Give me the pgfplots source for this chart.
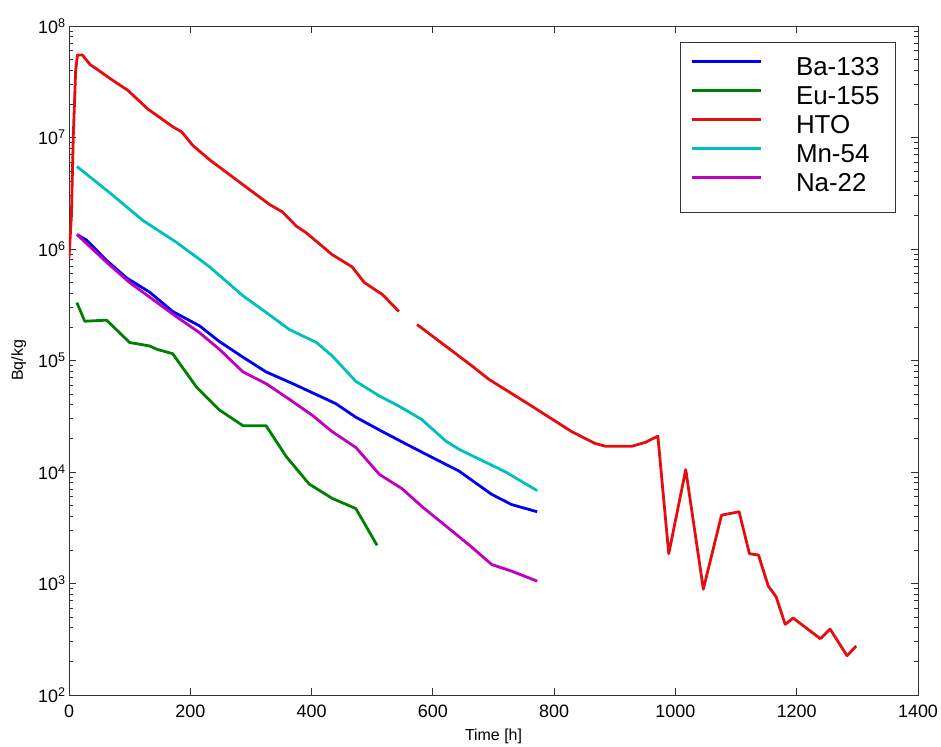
\documentclass[border=0pt]{standalone}
\usepackage{pgfplots}
\pgfplotsset{compat=1.18}
\usepackage{fontspec}
\setmainfont{Liberation Sans}
\definecolor{mb}{rgb}{0,0,0.95}
\definecolor{mg}{rgb}{0,0.5,0}
\definecolor{mr}{rgb}{0.9,0.05,0.05}
\definecolor{mc}{rgb}{0,0.75,0.75}
\definecolor{mm}{rgb}{0.75,0,0.75}
\begin{document}
\begin{tikzpicture}
\begin{axis}[
  scale only axis, width=849bp, height=669bp,
  xmin=0, xmax=1400, ymin=1e2, ymax=1e8, ymode=log,
  xtick={0,200,...,1400},
  ytick={1e2,1e3,1e4,1e5,1e6,1e7,1e8},
  yticklabels={10\textsuperscript{2},10\textsuperscript{3},10\textsuperscript{4},10\textsuperscript{5},10\textsuperscript{6},10\textsuperscript{7},10\textsuperscript{8}},
  /pgf/number format/assume math mode=true,
  /pgf/number format/set thousands separator={},
  tick label style={font=\fontsize{18}{21}\selectfont},
  xticklabel style={yshift=-6bp},
  tick align=inside, major tick length=7bp, minor tick length=4bp,
  axis line style={line width=0.8bp, black!80},
  every tick/.style={black!80, line width=0.8bp},
  xlabel={Time [h]}, xlabel style={font=\fontsize{16}{19}\selectfont, yshift=-5bp},
  ylabel={Bq/kg}, ylabel style={font=\fontsize{16}{19}\selectfont, yshift=5bp},
  unbounded coords=jump,
  every axis plot/.append style={line width=2.8bp, line join=round},
  legend style={at={(rel axis cs:0.974,0.976)}, anchor=north east,
    font=\fontsize{26}{29}\selectfont, draw=black!80, line width=0.8bp,
    inner xsep=10bp, inner ysep=12.5bp, row sep=0bp, column sep=28bp,
    nodes={inner xsep=6bp, inner ysep=3bp, text height=18bp, text depth=5bp}},
  legend cell align=left,
  legend image code/.code={\draw[#1] (0bp,8bp) -- (69bp,8bp);},
]
\addplot[mb] coordinates {(13,1.35e6)(29,1.2e6)(62,7.9e5)(95,5.5e5)(133,4.1e5)(171,2.75e5)(215,2.05e5)(248,1.48e5)(287,1.07e5)(325,7.9e4)(369,6.2e4)(413,4.8e4)(440,4.1e4)(473,3.1e4)(517,2.3e4)(556,1.78e4)(599,1.35e4)(643,1.02e4)(697,6.3e3)(730,5.1e3)(772,4.4e3)};
\addlegendentry{Ba-133}
\addplot[mg] coordinates {(13,3.3e5)(26,2.25e5)(62,2.3e5)(100,1.45e5)(133,1.35e5)(145,1.26e5)(171,1.15e5)(210,5.8e4)(248,3.6e4)(287,2.6e4)(325,2.6e4)(358,1.38e4)(396,7.8e3)(434,5.8e3)(473,4.7e3)(508,2.2e3)};
\addlegendentry{Eu-155}
\addplot[mr] coordinates {(0,8.3e5)(4,2e6)(7,1e7)(11,4e7)(14,5.5e7)(22,5.5e7)(35,4.5e7)(46,4.1e7)(67,3.4e7)(97,2.65e7)(130,1.8e7)(171,1.25e7)(186,1.12e7)(204,8.5e6)(232,6.3e6)(298,3.4e6)(331,2.5e6)(352,2.15e6)(375,1.6e6)(391,1.4e6)(434,8.9e5)(467,6.9e5)(487,5.0e5)(517,3.9e5)(544,2.75e5)(560,nan)(574,2.1e5)(665,8.9e4)(692,6.8e4)(763,3.9e4)(829,2.3e4)(868,1.8e4)(885,1.7e4)(928,1.7e4)(951,1.85e4)(971,2.1e4)(989,1.85e3)(1017,1.05e4)(1046,890)(1076,4.1e3)(1105,4.4e3)(1122,1.85e3)(1137,1.8e3)(1153,950)(1166,760)(1181,430)(1194,490)(1239,320)(1255,390)(1283,225)(1298,275)};
\addlegendentry{HTO}
\addplot[mc] coordinates {(13,5.5e6)(67,3.2e6)(122,1.8e6)(177,1.15e6)(232,6.9e5)(287,3.8e5)(325,2.7e5)(363,1.9e5)(408,1.45e5)(434,1.1e5)(473,6.5e4)(512,4.8e4)(544,3.9e4)(582,2.95e4)(621,1.9e4)(643,1.6e4)(720,1.0e4)(772,6.8e3)};
\addlegendentry{Mn-54}
\addplot[mm] coordinates {(13,1.35e6)(62,7.6e5)(100,5.0e5)(133,3.7e5)(178,2.45e5)(215,1.78e5)(248,1.26e5)(287,7.9e4)(325,6.2e4)(363,4.5e4)(402,3.2e4)(434,2.3e4)(473,1.66e4)(512,9.5e3)(549,7.1e3)(582,4.9e3)(627,3.1e3)(665,2.1e3)(697,1.48e3)(730,1.29e3)(772,1.05e3)};
\addlegendentry{Na-22}
\end{axis}
\pgfresetboundingbox
\path (-69bp,-52bp) rectangle (872bp,695bp);
\end{tikzpicture}
\end{document}
